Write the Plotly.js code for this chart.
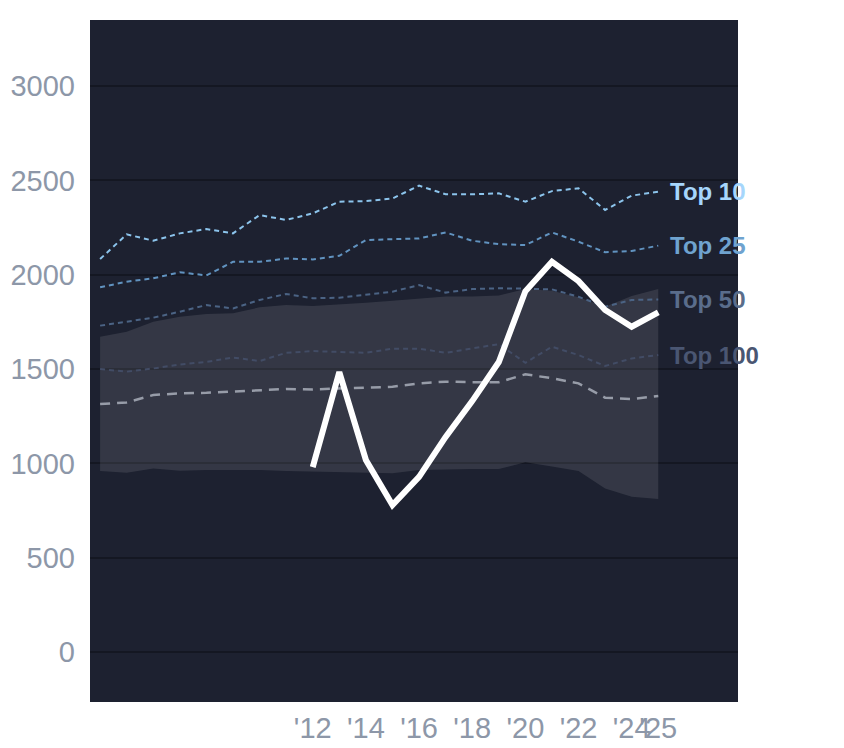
<!DOCTYPE html>
<html>
<head>
<meta charset="utf-8">
<script src="https://cdn.plot.ly/plotly-3.0.1.min.js"></script>
<style>
  html, body { margin: 0; padding: 0; background: #ffffff; }
  #chart { width: 844px; height: 748px; }
</style>
</head>
<body>
<div id="chart"></div>
<script>
  "use strict";

  var YEARS = [2004, 2005, 2006, 2007, 2008, 2009, 2010, 2011, 2012, 2013, 2014,
    2015, 2016, 2017, 2018, 2019, 2020, 2021, 2022, 2023, 2024, 2025];

  var TOP_10 = [2083, 2214, 2180, 2219, 2242, 2219, 2316, 2290, 2325, 2387, 2390,
    2404, 2472, 2426, 2426, 2431, 2387, 2443, 2458, 2343, 2419, 2440];
  var TOP_25 = [1933, 1963, 1981, 2013, 1996, 2068, 2068, 2086, 2081, 2100, 2184,
    2189, 2192, 2224, 2180, 2162, 2157, 2224, 2175, 2119, 2126, 2154];
  var TOP_50 = [1730, 1751, 1772, 1804, 1839, 1821, 1866, 1898, 1875, 1878, 1892,
    1910, 1945, 1905, 1924, 1928, 1926, 1922, 1883, 1830, 1866, 1869];
  var TOP_100 = [1500, 1486, 1503, 1524, 1538, 1561, 1542, 1586, 1595, 1592, 1586,
    1608, 1608, 1586, 1608, 1632, 1533, 1618, 1574, 1516, 1556, 1574];
  var MEDIAN = [1314, 1323, 1362, 1371, 1374, 1380, 1389, 1394, 1392, 1397, 1402,
    1406, 1424, 1433, 1430, 1430, 1472, 1451, 1424, 1348, 1341, 1357];
  var BAND_HIGH = [1671, 1698, 1751, 1777, 1791, 1795, 1827, 1839, 1834, 1842, 1851,
    1862, 1875, 1884, 1884, 1890, 1924, 1915, 1880, 1830, 1887, 1924];
  var BAND_LOW = [959, 950, 973, 961, 965, 965, 965, 959, 956, 954, 952,
    947, 965, 969, 970, 970, 1006, 983, 959, 867, 823, 811];

  var PLAYER_YEARS = [2012, 2013, 2014, 2015, 2016, 2017, 2018, 2019, 2020, 2021,
    2022, 2023, 2024, 2025];
  var PLAYER = [980, 1484, 1018, 779, 928, 1140, 1330, 1537, 1912, 2068, 1966,
    1813, 1724, 1800];

  var Y_TICKS = [0, 500, 1000, 1500, 2000, 2500, 3000];
  var X_TICKS = [2012, 2014, 2016, 2018, 2020, 2022, 2024, 2025];
  var X_TICK_TEXT = ["'12", "'14", "'16", "'18", "'20", "'22", "'24", "'25"];

  var TIERS = [
    { name: "Top 10", values: TOP_10, line: "#8cc4ec", text: "#a6d6fc" },
    { name: "Top 25", values: TOP_25, line: "#6193c0", text: "#6fa3cf" },
    { name: "Top 50", values: TOP_50, line: "#4b6384", text: "#5a6d8b" },
    { name: "Top 100", values: TOP_100, line: "#424c65", text: "#4a5672" }
  ];

  var FONT = '"Liberation Sans", Arial, sans-serif';

  var traces = [
    {
      type: "scatter", mode: "lines", x: YEARS, y: BAND_LOW,
      line: { width: 0, color: "rgba(0,0,0,0)" }, hoverinfo: "skip", showlegend: false
    },
    {
      type: "scatter", mode: "lines", x: YEARS, y: BAND_HIGH,
      fill: "tonexty", fillcolor: "rgba(255,255,255,0.1)",
      line: { width: 0, color: "rgba(0,0,0,0)" }, hoverinfo: "skip", showlegend: false
    },
    {
      type: "scatter", mode: "lines", x: YEARS, y: MEDIAN,
      line: { color: "#979ca8", width: 2.5, dash: "10px,7px" }, showlegend: false
    }
  ];

  TIERS.forEach(function (tier) {
    traces.push({
      type: "scatter", mode: "lines", x: YEARS, y: tier.values, name: tier.name,
      line: { color: tier.line, width: 2, dash: "5px,4px" }, showlegend: false
    });
  });

  traces.push({
    type: "scatter", mode: "lines", x: PLAYER_YEARS, y: PLAYER,
    line: { color: "#ffffff", width: 6 }, showlegend: false
  });

  var last = YEARS.length - 1;
  var annotations = TIERS.map(function (tier) {
    return {
      x: YEARS[last], y: tier.values[last], xref: "x", yref: "y",
      text: "<b>" + tier.name + "</b>", showarrow: false,
      xanchor: "left", yanchor: "middle", xshift: 10,
      font: { family: FONT, size: 24, color: tier.text }
    };
  });

  var layout = {
    width: 844,
    height: 748,
    paper_bgcolor: "#ffffff",
    plot_bgcolor: "#1d2130",
    margin: { l: 90, r: 106, t: 20, b: 46, pad: 0 },
    font: { family: FONT, color: "#8d97a8", size: 29 },
    xaxis: {
      range: [2003.62, 2028.0],
      tickvals: X_TICKS,
      ticktext: X_TICK_TEXT,
      tickangle: 0,
      showgrid: false,
      zeroline: false,
      showline: false,
      ticks: "",
      ticklabelstandoff: 6,
      tickfont: { size: 29, color: "#8d97a8" }
    },
    yaxis: {
      range: [-265, 3350],
      tickvals: Y_TICKS,
      showgrid: true,
      gridcolor: "#141722",
      gridwidth: 2,
      zeroline: false,
      showline: false,
      ticks: "",
      ticklabelstandoff: 14,
      tickfont: { size: 29, color: "#8d97a8" }
    },
    annotations: annotations,
    showlegend: false
  };

  Plotly.newPlot("chart", traces, layout, { displayModeBar: false, staticPlot: true });
</script>
</body>
</html>
